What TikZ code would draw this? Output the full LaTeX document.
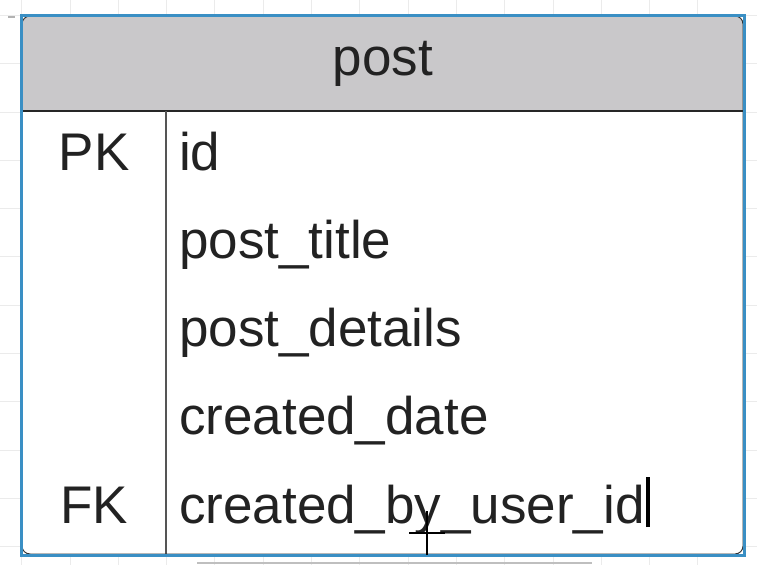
\documentclass[tikz,border=0pt]{standalone}
\usepackage{fontspec}
\setmainfont{Liberation Sans}
\definecolor{gridc}{HTML}{EBEBEB}
\definecolor{selblue}{HTML}{3A8FC4}
\definecolor{headfill}{HTML}{C9C8CA}
\definecolor{txt}{HTML}{222222}
\definecolor{divc}{HTML}{555555}
\begin{document}
\begin{tikzpicture}[x=1pt,y=-1pt,
  lbl/.style={font=\fontsize{53}{60}\selectfont, text=txt, inner sep=0pt},
  keylbl/.style={lbl, anchor=base},
  fieldlbl/.style={lbl, anchor=base west},
  gridline/.style={draw=gridc, line width=1pt}]
\useasboundingbox (0,0) rectangle (757,565);
\fill[white] (0,0) rectangle (757,565);
% background grid
\foreach \i in {0,...,15} {
  \draw[gridline] ({21.7+48.3*(\i-1)},0) -- ({21.7+48.3*(\i-1)},565);
}
\foreach \j in {0,...,12} {
  \draw[gridline] (0,{15.4+48.3*(\j-1)}) -- (757,{15.4+48.3*(\j-1)});
}
% table body
\fill[white] (22,16) rectangle (743,554);
\fill[headfill, rounded corners=8pt] (22,16) -- (22,111) -- (743,111) -- (743,16) -- cycle;
\fill[headfill] (22,60) rectangle (743,111);
\draw[black!85, line width=1.8pt] (22,111) -- (743,111);
\draw[divc, line width=1.8pt] (166,111) -- (166,554);
\draw[black!80, line width=1pt, rounded corners=8pt] (22,16) rectangle (743,554);
% selection border
\draw[selblue, line width=3pt] (21,15) rectangle (744,555);
% texts
\node[lbl, anchor=base] (title) at (383,75) {post};
\node[keylbl] (pk) at (94,170) {PK};
\node[keylbl] (fk) at (94,523) {FK};
\node[fieldlbl] (f1) at (179,170) {id};
\node[fieldlbl] (f2) at (179,258) {post\_title};
\node[fieldlbl] (f3) at (179,346) {post\_details};
\node[fieldlbl] (f4) at (179,434) {created\_date};
\node[fieldlbl] (f5) at (179,523) {created\_by\_user\_id};
% text cursor and pointer
\draw[black, line width=3.5pt] ([xshift=3pt]f5.base east) ++(0,4) -- ++(0,-50);
\coordinate (cur) at (427,533);
\draw[black, line width=1.8pt] ([xshift=-18pt]cur) -- ([xshift=18pt]cur);
\draw[black, line width=1.8pt] ([yshift=-22pt]cur) -- ([yshift=22pt]cur);
% stray marks
\draw[black!30, line width=1.5pt] (8,17) -- (15,17);
\draw[black!25, line width=1.5pt] (197,563) -- (592,563);
\end{tikzpicture}
\end{document}
